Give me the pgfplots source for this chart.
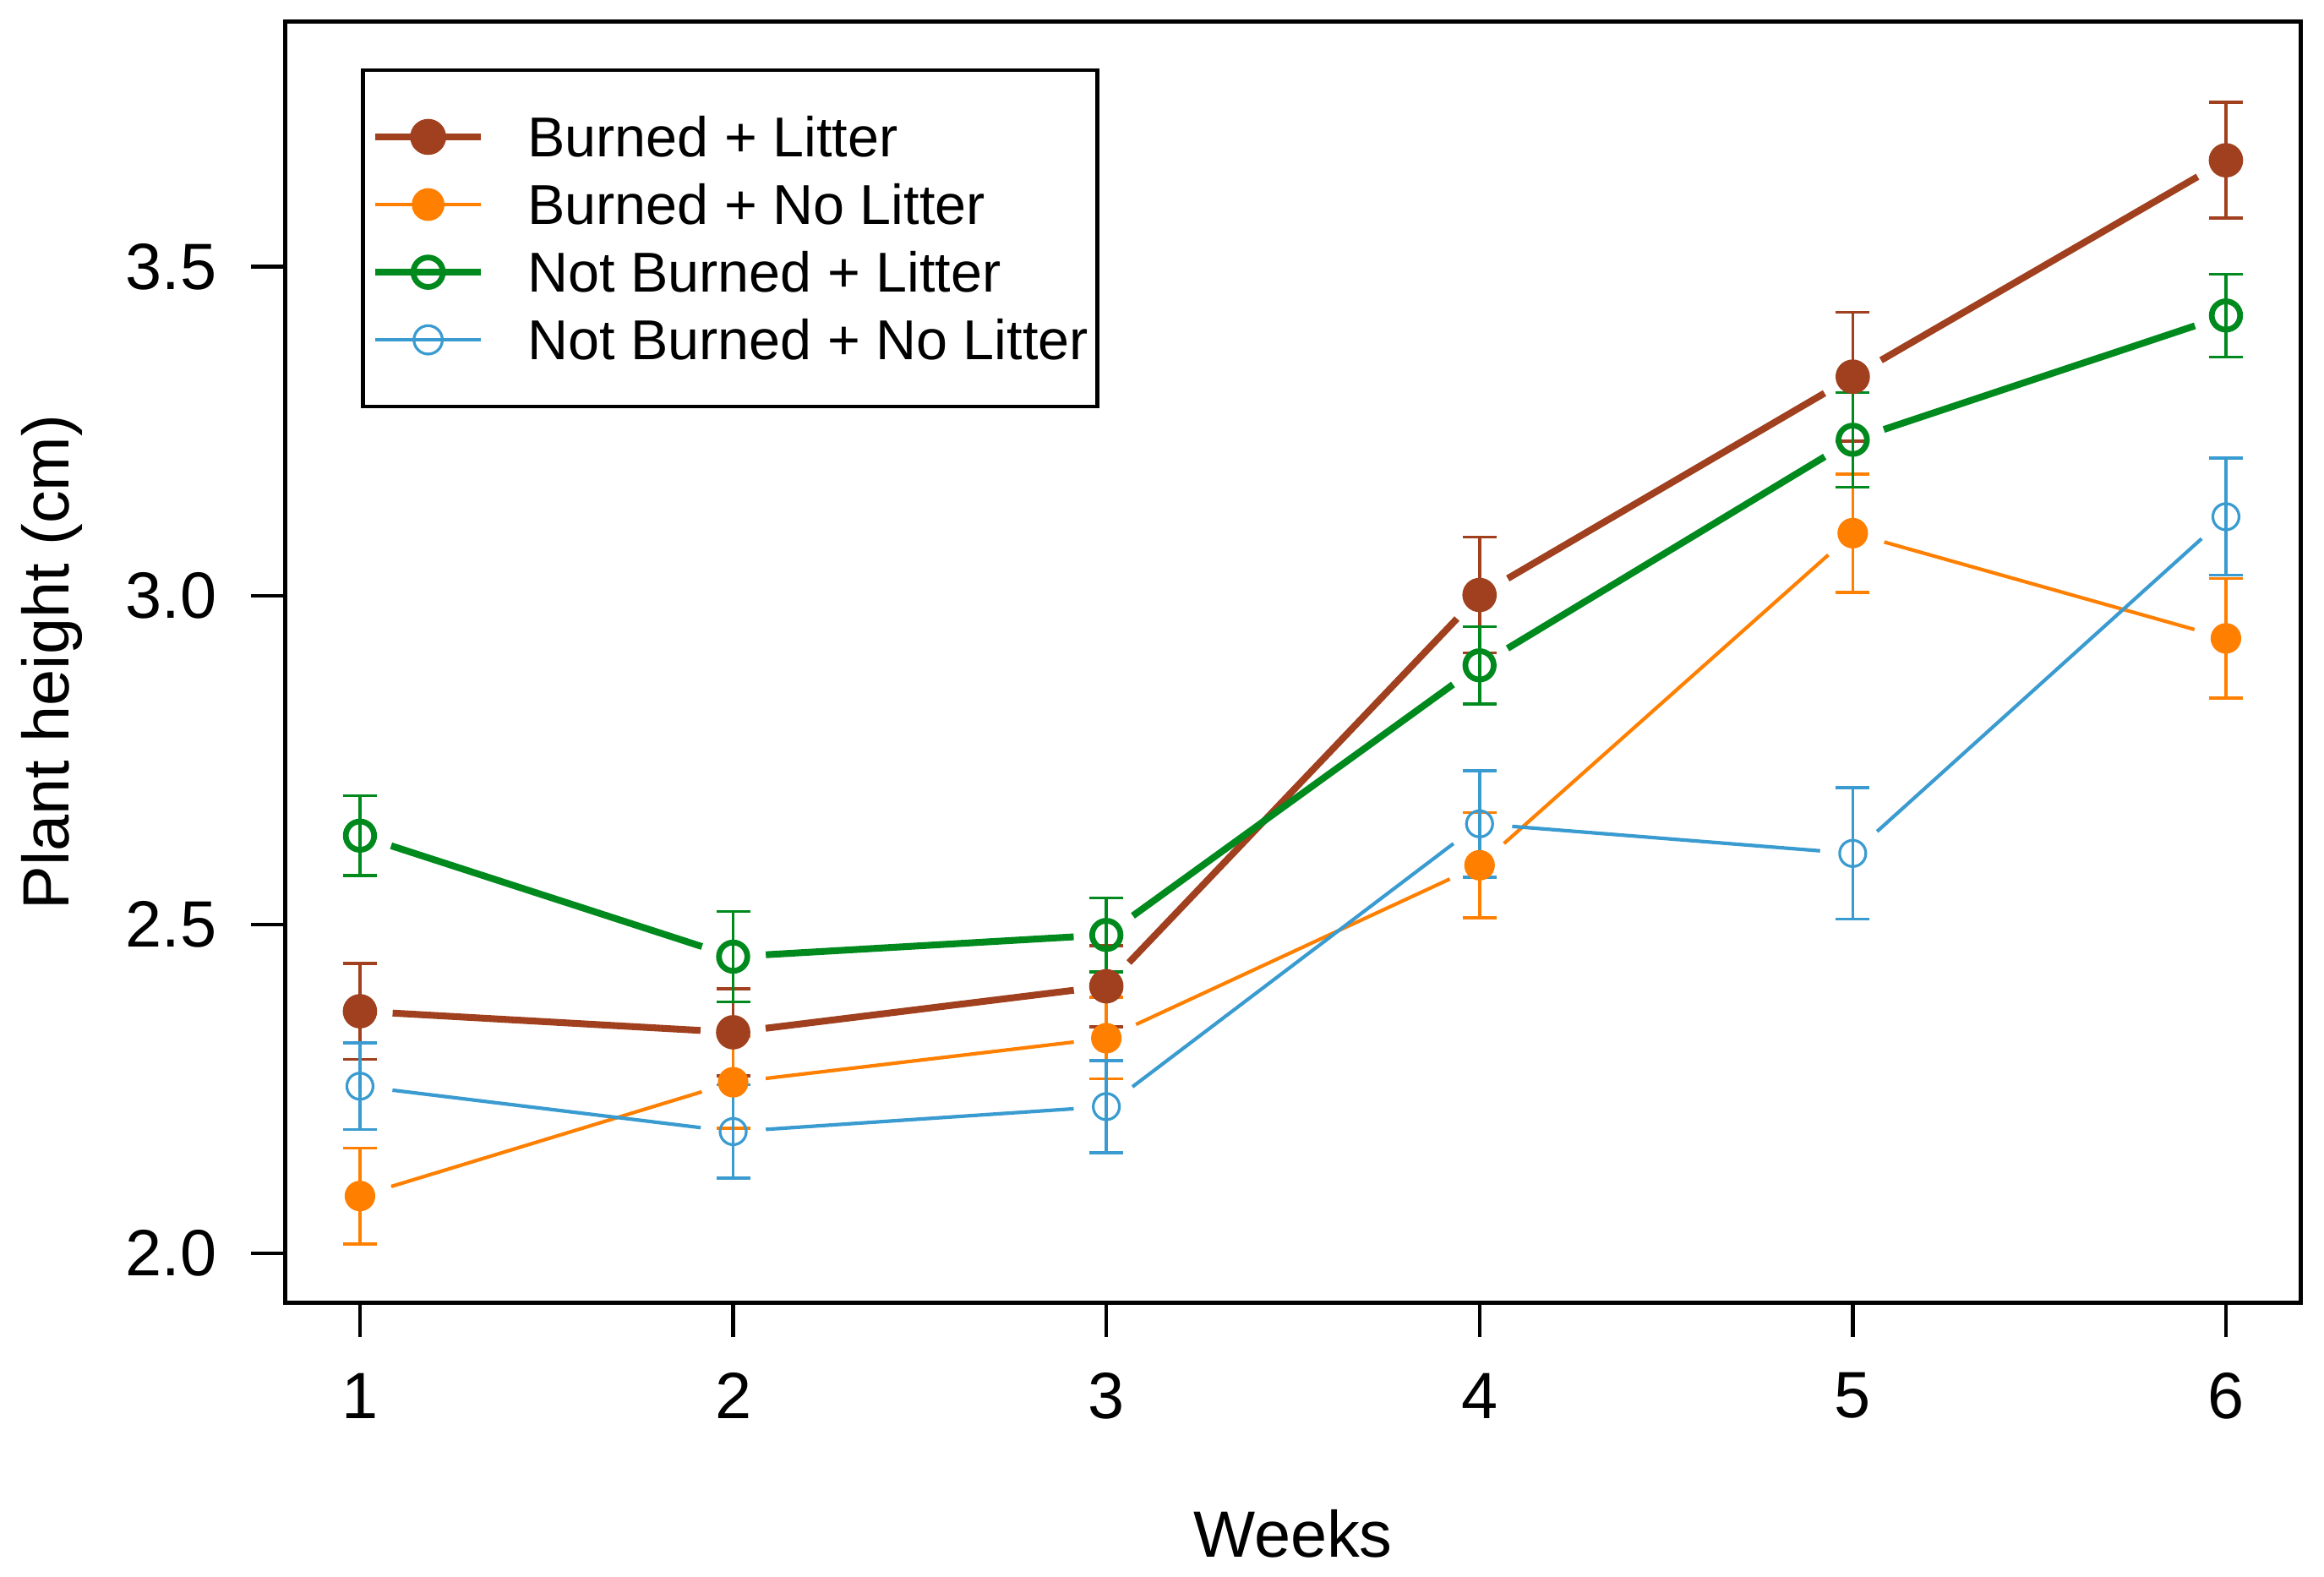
\documentclass[border=0pt]{standalone}
\usepackage{fontspec}
\setmainfont{Liberation Sans}
\usepackage{pgfplots}
\usepackage{pgfplotstable}
\pgfplotsset{compat=1.18}

\definecolor{cBL}{HTML}{A0401E}
\definecolor{cBN}{HTML}{FF7F00}
\definecolor{cNL}{HTML}{008A1E}
\definecolor{cNN}{HTML}{3A9BD0}

% week, mean and SE for each treatment
\pgfplotstableread{
x  bl    blse   bn    bnse   nl    nlse   nn    nnse
1  2.368 0.073  2.087 0.073  2.635 0.061  2.254 0.066
2  2.336 0.066  2.260 0.070  2.451 0.069  2.185 0.071
3  2.406 0.062  2.327 0.062  2.484 0.056  2.223 0.070
4  3.001 0.088  2.590 0.080  2.894 0.059  2.653 0.081
5  3.333 0.098  3.095 0.090  3.237 0.072  2.608 0.100
6  3.662 0.088  2.935 0.091  3.426 0.063  3.120 0.089
}\data

\pgfplotsset{
  seg/.style={no marks, forget plot, shorten <=6pt, shorten >=6pt},
  pts/.style={only marks, forget plot,
    error bars/y dir=both, error bars/y explicit,
    error bars/error bar style={line width=0.55pt, solid},
    error bars/error mark options={rotate=90, mark size=3.1pt, line width=0.55pt}},
}

\begin{document}
\begin{tikzpicture}
\begin{axis}[
    scale only axis,
    width=369.4pt, height=234.8pt,
    xmin=0.8, xmax=6.2,
    ymin=1.925, ymax=3.873,
    xtick={1,2,3,4,5,6},
    ytick={2,2.5,3,3.5},
    xtick pos=left, ytick pos=left,
    tick align=outside,
    major tick length=6.3pt,
    tick style={black, line width=0.7pt},
    axis line style={line width=0.7pt},
    /pgf/number format/assume math mode=true,
    every tick label/.append style={font=\fontsize{12}{14}\selectfont},
    xticklabel style={anchor=center, yshift=-10.8pt},
    yticklabel style={anchor=east, inner sep=0pt, xshift=-6.1pt,
      /pgf/number format/fixed, /pgf/number format/fixed zerofill,
      /pgf/number format/precision=1},
    label style={font=\fontsize{12}{14}\selectfont},
    xlabel={Weeks},
    ylabel={Plant height (cm)},
    xlabel style={at={(axis description cs:0.5,0)}, anchor=center, yshift=-42.4pt},
    ylabel style={at={(axis description cs:-0.1159,0.5)}, anchor=center},
    legend image code/.code={
      \draw[mark repeat=2, mark phase=2, #1] plot coordinates {(0pt,0pt) (9.7pt,0pt) (19.4pt,0pt)};
    },
    legend style={at={(0.0375,0.9634)}, anchor=north west,
      draw=black, line width=0.7pt,
      font=\fontsize{10.3}{12}\selectfont,
      inner xsep=1.65pt, inner ysep=7pt,
      row sep=2pt, column sep=7.9pt,
      nodes={inner sep=0pt, text height=8.8pt, text depth=1.6pt},
      cells={anchor=west}},
]
\addlegendimage{cBL, line width=1.25pt, mark=*, mark size=3.1pt, mark options={line width=0.4pt}}
\addlegendentry{Burned + Litter}
\addlegendimage{cBN, line width=0.65pt, mark=*, mark size=2.8pt, mark options={line width=0.4pt}}
\addlegendentry{Burned + No Litter}
\addlegendimage{cNL, line width=1.25pt, mark=o, mark size=2.7pt, mark options={line width=1.05pt}}
\addlegendentry{Not Burned + Litter}
\addlegendimage{cNN, line width=0.65pt, mark=o, mark size=2.6pt, mark options={line width=0.5pt}}
\addlegendentry{Not Burned + No Litter\hspace{2.85pt}}

% line segments with gaps at the points
\pgfplotsinvokeforeach{0,...,4}{
  \addplot[seg, cBL, line width=1.25pt, restrict expr to domain={\coordindex-#1}{0:1}] table[x=x, y=bl] {\data};
  \addplot[seg, cBN, line width=0.65pt, restrict expr to domain={\coordindex-#1}{0:1}] table[x=x, y=bn] {\data};
  \addplot[seg, cNL, line width=1.25pt, restrict expr to domain={\coordindex-#1}{0:1}] table[x=x, y=nl] {\data};
  \addplot[seg, cNN, line width=0.65pt, restrict expr to domain={\coordindex-#1}{0:1}] table[x=x, y=nn] {\data};
}

% points with error bars
\addplot[pts, cBL, mark=*, mark size=2.95pt, mark options={line width=0.4pt}] table[x=x, y=bl, y error=blse] {\data};
\addplot[pts, cBN, mark=*, mark size=2.6pt, mark options={line width=0.4pt}] table[x=x, y=bn, y error=bnse] {\data};
\addplot[pts, cNL, mark=o, mark size=2.6pt, mark options={line width=1.05pt}] table[x=x, y=nl, y error=nlse] {\data};
\addplot[pts, cNN, mark=o, mark size=2.4pt, mark options={line width=0.5pt}] table[x=x, y=nn, y error=nnse] {\data};
\end{axis}
\path ([shift={(-52.3pt,-50.3pt)}]current axis.south west) rectangle ([shift={(4.3pt,3.95pt)}]current axis.north east);
\end{tikzpicture}
\end{document}
